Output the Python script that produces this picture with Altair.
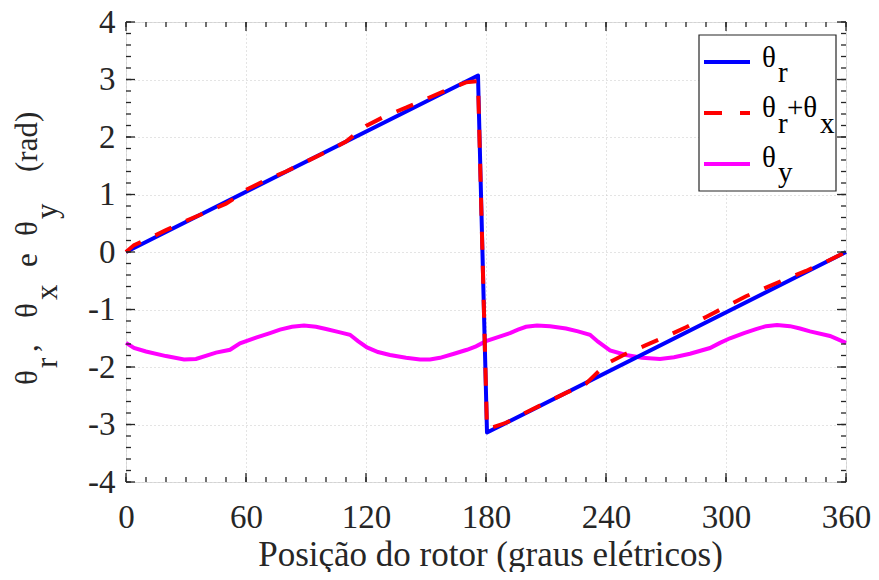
import altair as alt
import pandas as pd

# ---------------- data ----------------
deg_r = [0, 176, 180.5, 360]
theta_r = [0.0, 3.07, -3.14, 0.0]

deg_rx = [0, 4, 10, 20, 30, 40, 50, 55, 60, 70, 80, 90, 100, 110, 115, 120, 125, 130,
          140, 150, 160, 170, 176, 180.5, 190, 200, 210, 220, 230, 235, 240, 250, 260,
          270, 280, 290, 300, 310, 320, 330, 340, 350, 360]
theta_rx = [0.0, 0.12, 0.21, 0.38, 0.54, 0.69, 0.84, 0.95, 1.08, 1.25, 1.40, 1.57, 1.74,
            1.92, 2.06, 2.19, 2.28, 2.37, 2.51, 2.66, 2.81, 2.95, 2.97, -3.08, -2.97,
            -2.79, -2.62, -2.45, -2.29, -2.12, -1.95, -1.77, -1.62, -1.47, -1.31, -1.13,
            -0.95, -0.77, -0.62, -0.47, -0.33, -0.17, 0.0]

deg_y = [0, 4, 10, 20, 29, 35, 45, 52, 57, 65, 72, 77, 83, 89, 95, 100, 106, 112, 116,
         120.5, 126, 132, 140, 147, 152, 157, 164, 170.5, 175, 180, 186, 192, 196, 200,
         205.5, 212, 220, 226, 232, 236, 242, 250, 258, 267, 274, 282, 292, 297, 302,
         309, 315, 320, 325.5, 332, 337, 342, 352, 356, 360]
theta_y = [-1.58, -1.67, -1.73, -1.81, -1.87, -1.86, -1.75, -1.70, -1.59, -1.49, -1.41,
           -1.35, -1.30, -1.28, -1.30, -1.34, -1.39, -1.44, -1.55, -1.66, -1.74, -1.79,
           -1.84, -1.87, -1.87, -1.84, -1.77, -1.70, -1.64, -1.55, -1.48, -1.41, -1.35,
           -1.30, -1.28, -1.29, -1.33, -1.38, -1.44, -1.56, -1.71, -1.79, -1.84, -1.86,
           -1.83, -1.77, -1.67, -1.58, -1.50, -1.41, -1.34, -1.29, -1.27, -1.29, -1.33,
           -1.38, -1.46, -1.52, -1.58]

x_ticks = [0, 60, 120, 180, 240, 300, 360]
y_ticks = [-4, -3, -2, -1, 0, 1, 2, 3, 4]
x_minor = list(range(0, 361, 10))
y_minor = [round(-4 + 0.2 * i, 1) for i in range(41)]

# ---------------- styling ----------------
W, H = 720, 460
FONT = "Liberation Serif"
INK = "#262626"
xs = alt.Scale(domain=[0, 360], nice=False, zero=False)
ys = alt.Scale(domain=[-4, 4], nice=False, zero=False)

df_r = pd.DataFrame({"deg": deg_r, "val": theta_r})
df_rx = pd.DataFrame({"deg": deg_rx, "val": theta_rx})
df_y = pd.DataFrame({"deg": deg_y, "val": theta_y})
one = pd.DataFrame({"a": [0]})

x_axis = alt.Axis(values=x_ticks, grid=True, gridDash=[1, 3], gridColor="#c8c8c8",
                  gridWidth=1, domain=False, ticks=False, labelFont=FONT,
                  labelFontSize=33, labelColor=INK, labelPadding=45,
                  labelBaseline="alphabetic", labelFlush=False, labelOverlap=False,
                  titleFont=FONT, titleFontSize=35, titleFontWeight="normal",
                  titleColor=INK, titleY=83, titleX=364, titleBaseline="alphabetic")
y_axis = alt.Axis(values=y_ticks, grid=True, gridDash=[1, 3], gridColor="#c8c8c8",
                  gridWidth=1, domain=False, ticks=False, labelFont=FONT,
                  labelFontSize=33, labelColor=INK, labelPadding=11,
                  labelFlush=False, labelOverlap=False,
                  labelExpr="datum.value < 0 ? '-' + abs(datum.value) : '' + datum.value")

X = lambda f: alt.X(f, scale=xs, axis=x_axis, title="Posição do rotor (graus elétricos)")
Y = lambda f: alt.Y(f, scale=ys, axis=y_axis, title="")

magenta = alt.Chart(df_y).mark_line(color="#ff00ff", strokeWidth=4).encode(
    x=X("deg:Q"), y=Y("val:Q"), order="deg:Q")
blue = alt.Chart(df_r).mark_line(color="#0000ff", strokeWidth=4, strokeJoin="round").encode(
    x=X("deg:Q"), y=Y("val:Q"), order="deg:Q")
red = alt.Chart(df_rx).mark_line(color="#ff0000", strokeWidth=4, strokeDash=[18, 16]).encode(
    x=X("deg:Q"), y=Y("val:Q"), order="deg:Q")

# inward ticks on all four sides
dfx_min = pd.DataFrame({"deg": x_minor})
dfx_maj = pd.DataFrame({"deg": x_ticks})
dfy_min = pd.DataFrame({"val": y_minor})
dfy_maj = pd.DataFrame({"val": y_ticks})


def xtick(df, y0, y1):
    return alt.Chart(df).mark_rule(color=INK, strokeWidth=1.3).encode(
        x=X("deg:Q"), y=alt.value(y0), y2=alt.value(y1))


def ytick(df, x0, x1):
    return alt.Chart(df).mark_rule(color=INK, strokeWidth=1.3).encode(
        y=Y("val:Q"), x=alt.value(x0), x2=alt.value(x1))


ticks = [xtick(dfx_min, H, H - 5), xtick(dfx_maj, H, H - 9),
         xtick(dfx_min, 0, 5), xtick(dfx_maj, 0, 9),
         ytick(dfy_min, 0, 5), ytick(dfy_maj, 0, 9),
         ytick(dfy_min, W, W - 5), ytick(dfy_maj, W, W - 9)]


def txt(s, x, y, size, angle=0, color="black"):
    return alt.Chart(one).mark_text(text=s, font=FONT, fontSize=size, align="left",
                                    baseline="alphabetic", angle=angle,
                                    color=color).encode(x=alt.value(x), y=alt.value(y))


# y-axis title: θr , θx e θy (rad) with subscripts
YS = 31
ytitle = [
    txt("θ", -89, 363, YS, 270, INK), txt("r", -69, 346, YS, 270, INK),
    txt(",", -89, 330, YS, 270, INK),
    txt("θ", -89, 296, YS, 270, INK), txt("x", -69, 278, YS, 270, INK),
    txt("e", -89, 245, YS, 270, INK),
    txt("θ", -89, 214, YS, 270, INK), txt("y", -69, 197, YS, 270, INK),
    txt("(rad)", -89, 150, YS, 270, INK),
]

# legend
LS = 29
box = alt.Chart(one).mark_rect(fill="white", stroke=INK, strokeWidth=1.2).encode(
    x=alt.value(573), x2=alt.value(710), y=alt.value(13), y2=alt.value(169))
leg_lines = [
    alt.Chart(one).mark_rule(color="#0000ff", strokeWidth=4).encode(
        x=alt.value(578), x2=alt.value(624), y=alt.value(40)),
    alt.Chart(one).mark_rule(color="#ff0000", strokeWidth=4, strokeDash=[18, 18]).encode(
        x=alt.value(578), x2=alt.value(624), y=alt.value(91)),
    alt.Chart(one).mark_rule(color="#ff00ff", strokeWidth=4).encode(
        x=alt.value(578), x2=alt.value(624), y=alt.value(142)),
]
leg_text = [
    txt("θ", 636, 45, LS), txt("r", 652, 60, LS),
    txt("θ", 636, 95, LS), txt("r", 652, 111, LS), txt("+θ", 661, 95, LS),
    txt("x", 694, 111, LS),
    txt("θ", 636, 145, LS), txt("y", 652, 160, LS),
]

chart = alt.layer(magenta, blue, red, *ticks, *ytitle, box, *leg_lines, *leg_text).properties(
    width=W, height=H,
    autosize=alt.AutoSizeParams(type="none"),
    padding={"left": 118, "top": 14, "right": 25, "bottom": 90},
).configure_view(stroke=INK, strokeWidth=1.5).configure(background="white")

chart.save("out.html", embed_options={"renderer": "svg", "actions": False})
